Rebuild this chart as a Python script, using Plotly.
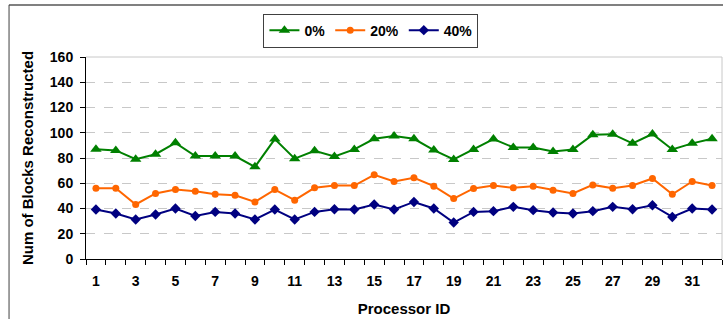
import plotly.graph_objects as go

processor_ids = list(range(1, 33))
series_names = ["0%", "20%", "40%"]
vals_0 = [87, 86, 79, 83, 92, 81.5, 81.5, 81.5, 73, 95, 79.5, 85.7, 81.2, 86.8, 95.2, 97.4,
          95.2, 86.3, 78.9, 86.8, 95, 88.4, 88.4, 85.2, 86.8, 98.4, 98.9, 91.6, 99, 86.8, 91.6, 95.2]
vals_20 = [56, 56, 43.2, 51.9, 55, 53.7, 51.3, 50.5, 45.2, 55, 46.6, 56.4, 58.2, 58.2, 66.7, 61.4,
           64.3, 57.7, 47.9, 55.9, 58.2, 56.4, 57.7, 54.5, 51.9, 58.7, 56.1, 58.2, 63.8, 51.3, 61.4, 58.2]
vals_40 = [39.2, 36, 31.3, 35.2, 40, 34.1, 37.3, 36, 31.3, 39.2, 31.3, 37.3, 39.4, 39.2, 43.2, 39.2,
           45.2, 40, 28.9, 37.3, 37.9, 41.3, 38.7, 36.8, 36, 37.9, 41.3, 39.4, 42.6, 33.3, 40, 39.2]
x_tick_labels = [str(i) for i in range(1, 33, 2)]
y_ticks = list(range(0, 161, 20))

FONT = "Liberation Sans, Arial, sans-serif"

fig = go.Figure()
fig.add_trace(go.Scatter(x=processor_ids, y=vals_0, name=series_names[0], mode="lines+markers",
                         line=dict(color="#008000", width=2),
                         marker=dict(symbol="triangle-up", size=10, color="#008000")))
fig.add_trace(go.Scatter(x=processor_ids, y=vals_20, name=series_names[1], mode="lines+markers",
                         line=dict(color="#FF6600", width=2),
                         marker=dict(symbol="circle", size=7, color="#FF6600")))
fig.add_trace(go.Scatter(x=processor_ids, y=vals_40, name=series_names[2], mode="lines+markers",
                         line=dict(color="#000080", width=2),
                         marker=dict(symbol="diamond", size=8, color="#000080")))

fig.update_layout(
    width=723, height=319,
    margin=dict(l=86, r=1, t=57, b=60, autoexpand=False),
    paper_bgcolor="white", plot_bgcolor="white",
    font=dict(family=FONT, size=13, color="black"),
    showlegend=True,
    legend=dict(orientation="h", x=0.448, xanchor="center", y=1.215, yanchor="top",
                bordercolor="#404040", borderwidth=1, bgcolor="white",
                font=dict(family=FONT, size=14, color="black", weight="bold"),
                itemwidth=30, tracegroupgap=0),
    xaxis=dict(range=[0.5, 32.5], tickvals=list(range(1, 33, 2)), ticktext=x_tick_labels,
               ticks="", showgrid=False, zeroline=False,
               showline=True, linecolor="black", linewidth=1,
               tickfont=dict(family=FONT, size=14, color="black", weight="bold"),
               ticklabelstandoff=9,
               minor=dict(tickvals=[i + 0.5 for i in range(0, 33)], ticks="outside",
                          ticklen=5, tickcolor="black", showgrid=False),
               title=dict(text="Processor ID", standoff=15,
                          font=dict(family=FONT, size=15, color="black", weight="bold"))),
    yaxis=dict(range=[0, 160], tickvals=y_ticks, ticks="outside", ticklen=5, tickcolor="black",
               showgrid=True, gridcolor="#c8c8c8", griddash="dash", gridwidth=1,
               zeroline=False, showline=True, linecolor="black", linewidth=1,
               tickfont=dict(family=FONT, size=14, color="black", weight="bold"),
               ticklabelstandoff=4,
               title=dict(text="Num of Blocks Reconstructed", standoff=12,
                          font=dict(family=FONT, size=15, color="black", weight="bold"))),
    shapes=[
        dict(type="line", xref="paper", yref="paper", x0=0, x1=1, y0=1, y1=1,
             line=dict(color="#c8c8c8", width=1), layer="below"),
        dict(type="line", xref="paper", yref="paper", x0=1, x1=1, y0=0, y1=1,
             line=dict(color="#c8c8c8", width=1), layer="below"),
        dict(type="line", xref="paper", yref="paper", x0=-0.121, x1=1.01, y0=1.258, y1=1.258,
             line=dict(color="#808080", width=2)),
        dict(type="line", xref="paper", yref="paper", x0=-0.121, x1=-0.121, y0=1.258, y1=-0.35,
             line=dict(color="#404040", width=1)),
    ],
)

fig.write_html("out.html", config={"displayModeBar": False},
               post_script="document.body.style.margin='0';document.body.style.overflow='hidden';")
